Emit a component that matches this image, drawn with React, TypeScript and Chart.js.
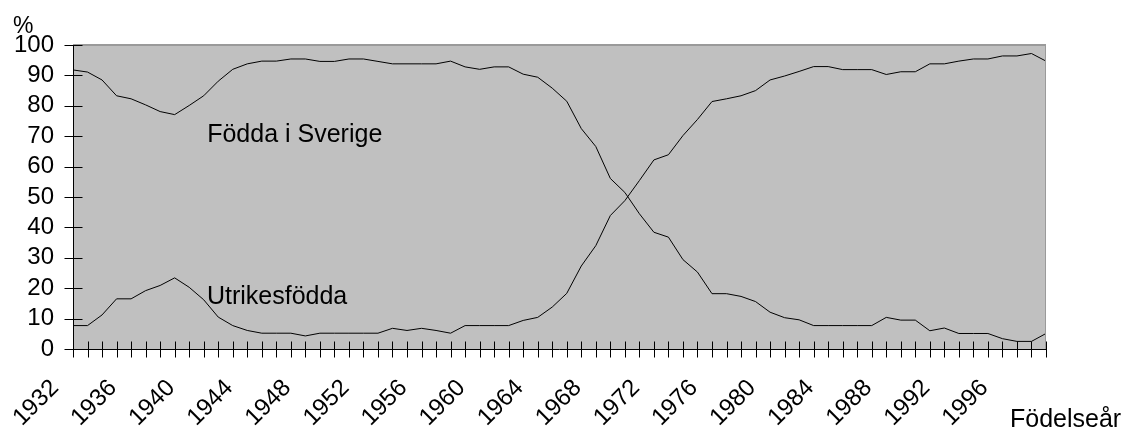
import React, { useEffect, useRef } from "react";
import { Chart, registerables } from "chart.js";

Chart.register(...registerables);

const years: string[] = [
  "1932", "1933", "1934", "1935", "1936", "1937", "1938", "1939", "1940", "1941",
  "1942", "1943", "1944", "1945", "1946", "1947", "1948", "1949", "1950", "1951",
  "1952", "1953", "1954", "1955", "1956", "1957", "1958", "1959", "1960", "1961",
  "1962", "1963", "1964", "1965", "1966", "1967", "1968", "1969", "1970", "1971",
  "1972", "1973", "1974", "1975", "1976", "1977", "1978", "1979", "1980", "1981",
  "1982", "1983", "1984", "1985", "1986", "1987", "1988", "1989", "1990", "1991",
  "1992", "1993", "1994", "1995", "1996", "1997", "1998", "1999",
];

const foddaISverige: number[] = [
  91.8, 91.1, 88.5, 83.3, 82.3, 80.3, 78.1, 77.1, 80.1, 83.3,
  88.1, 92.0, 93.8, 94.7, 94.7, 95.4, 95.4, 94.6, 94.6, 95.4,
  95.4, 94.6, 93.8, 93.8, 93.8, 93.8, 94.7, 92.8, 92.0, 92.8,
  92.8, 90.4, 89.4, 85.8, 81.5, 72.5, 66.6, 56.1, 51.5, 44.5,
  38.4, 36.8, 29.4, 25.3, 18.2, 18.2, 17.3, 15.6, 12.1, 10.3,
  9.6, 7.7, 7.7, 7.7, 7.7, 7.7, 10.4, 9.5, 9.5, 6.0,
  6.9, 5.1, 5.1, 5.1, 3.4, 2.5, 2.5, 5.1,
];

const utrikesfodda: number[] = [
  7.7, 7.7, 11.2, 16.5, 16.5, 19.2, 20.9, 23.4, 20.3, 16.2,
  10.5, 7.7, 6.1, 5.2, 5.2, 5.2, 4.3, 5.2, 5.2, 5.2,
  5.2, 5.2, 6.8, 6.1, 6.8, 6.1, 5.2, 7.7, 7.7, 7.7,
  7.7, 9.4, 10.4, 13.8, 18.3, 27.3, 34.0, 43.9, 48.8, 55.4,
  62.2, 63.9, 70.2, 75.5, 81.4, 82.3, 83.3, 85.0, 88.5, 89.8,
  91.3, 92.9, 92.9, 91.9, 91.9, 91.9, 90.3, 91.2, 91.2, 93.8,
  93.8, 94.7, 95.4, 95.4, 96.4, 96.4, 97.2, 94.7,
];

const seriesNames: string[] = ["Födda i Sverige", "Utrikesfödda"];
const yUnit = "%";
const xTitle = "Födelseår";
const labelEvery = 4;

const FONT = "'Liberation Sans', Arial, sans-serif";

const decorPlugin = {
  id: "decor",
  beforeDraw(chart: any) {
    const { ctx, chartArea } = chart;
    ctx.save();
    ctx.fillStyle = "#ffffff";
    ctx.fillRect(0, 0, chart.width, chart.height);
    ctx.fillStyle = "#c0c0c0";
    ctx.fillRect(chartArea.left, chartArea.top, chartArea.right - chartArea.left, chartArea.bottom - chartArea.top);
    ctx.restore();
  },
  afterDatasetsDraw(chart: any) {
    const { ctx, chartArea, scales } = chart;
    const xs = scales.x;
    const ys = scales.y;
    ctx.save();
    // plot-area border (top and right)
    ctx.strokeStyle = "#9a9a9a";
    ctx.lineWidth = 2;
    ctx.beginPath();
    ctx.moveTo(chartArea.left, chartArea.top);
    ctx.lineTo(chartArea.right, chartArea.top);
    ctx.stroke();
    ctx.lineWidth = 1;
    ctx.beginPath();
    ctx.moveTo(Math.round(chartArea.right) - 0.5, chartArea.top);
    ctx.lineTo(Math.round(chartArea.right) - 0.5, chartArea.bottom);
    ctx.stroke();
    // axes lines
    ctx.strokeStyle = "#000000";
    ctx.beginPath();
    const ax = Math.round(chartArea.left) + 0.5;
    const ay = Math.round(chartArea.bottom) + 0.5;
    ctx.moveTo(ax, chartArea.top);
    ctx.lineTo(ax, ay);
    ctx.lineTo(chartArea.right, ay);
    ctx.stroke();
    // cross tick marks
    ctx.beginPath();
    ys.ticks.forEach((_t: any, i: number) => {
      const py = Math.round(ys.getPixelForTick(i)) + 0.5;
      ctx.moveTo(ax - 9, py);
      ctx.lineTo(ax + 9, py);
    });
    xs.ticks.forEach((_t: any, i: number) => {
      const px = Math.round(xs.getPixelForTick(i)) + 0.5;
      ctx.moveTo(px, ay - 8);
      ctx.lineTo(px, ay + 8);
    });
    ctx.stroke();
    // texts
    ctx.fillStyle = "#000000";
    ctx.textBaseline = "alphabetic";
    ctx.textAlign = "left";
    ctx.font = `25px ${FONT}`;
    ctx.fillText(seriesNames[0], xs.getPixelForValue(9.24), ys.getPixelForValue(68));
    ctx.fillText(seriesNames[1], xs.getPixelForValue(9.22), ys.getPixelForValue(14.9));
    ctx.fillText(xTitle, 1010, 427);
    ctx.font = `23px ${FONT}`;
    ctx.fillText(yUnit, 13, 33);
    ctx.restore();
  },
};

export default function App() {
  const canvasRef = useRef<HTMLCanvasElement | null>(null);

  useEffect(() => {
    if (!canvasRef.current) return;
    const chart = new Chart(canvasRef.current, {
      type: "line",
      data: {
        labels: years,
        datasets: [
          {
            label: seriesNames[0],
            data: foddaISverige,
            borderColor: "#000000",
            borderWidth: 1,
            pointRadius: 0,
            tension: 0,
            fill: false,
          },
          {
            label: seriesNames[1],
            data: utrikesfodda,
            borderColor: "#000000",
            borderWidth: 1,
            pointRadius: 0,
            tension: 0,
            fill: false,
          },
        ],
      },
      options: {
        animation: false,
        responsive: true,
        maintainAspectRatio: false,
        devicePixelRatio: 1,
        layout: { padding: { top: 45, right: 80, left: 0, bottom: 0 } },
        plugins: {
          legend: { display: false },
          tooltip: { enabled: false },
          title: { display: false },
        },
        scales: {
          x: {
            type: "category",
            offset: false,
            grid: { display: false, drawTicks: false },
            border: { display: false },
            afterFit: (s: any) => {
              s.height = 79;
            },
            ticks: {
              autoSkip: false,
              maxRotation: 45,
              minRotation: 45,
              padding: 25,
              labelOffset: -18,
              color: "#000000",
              font: { family: FONT, size: 24 },
              callback: (_v: any, i: number) => (i % labelEvery === 0 && i < years.length - 1 ? years[i] : ""),
            },
          },
          y: {
            min: 0,
            max: 100,
            grid: { display: false, drawTicks: false },
            border: { display: false },
            afterFit: (s: any) => {
              s.width = 73;
            },
            ticks: {
              stepSize: 10,
              autoSkip: false,
              padding: 19,
              color: "#000000",
              font: { family: FONT, size: 24 },
            },
          },
        },
      },
      plugins: [decorPlugin],
    });
    return () => chart.destroy();
  }, []);

  return (
    <div style={{ position: "absolute", left: 0, top: 0, width: 1126, height: 428 }}>
      <canvas ref={canvasRef} />
    </div>
  );
}
